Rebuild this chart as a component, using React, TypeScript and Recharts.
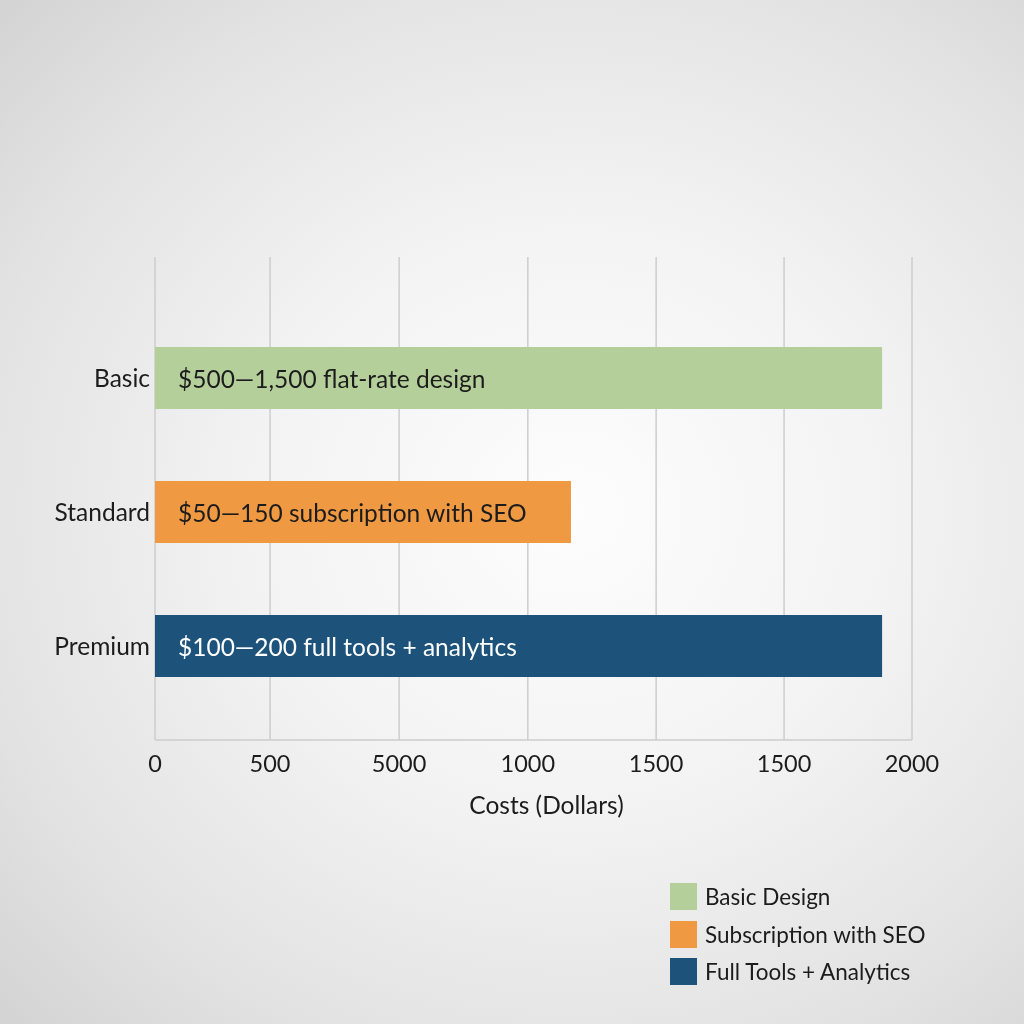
import React from "react"
import { Bar, BarChart, CartesianGrid, Cell, LabelList, XAxis, YAxis } from "recharts"

const tiers = ["Basic", "Standard", "Premium"]
const costs = [1921, 1099, 1921]
const barTexts = [
  "$500\u20141,500 flat-rate design",
  "$50\u2014150 subscription with SEO",
  "$100\u2014200 full tools + analytics",
]
const barColors = ["#b5cf9b", "#ef9a43", "#1d527a"]
const barTextColors = ["#1c1c1c", "#1c1c1c", "#ffffff"]
const legendNames = ["Basic Design", "Subscription with SEO", "Full Tools + Analytics"]

// tick positions, with the (odd) labels printed under them
const tickValues = [0, 304, 645, 985, 1324, 1662, 2000]
const tickLabels = ["0", "500", "5000", "1000", "1500", "1500", "2000"]

const FONT = "Lato, 'Open Sans', sans-serif"

const data = tiers.map((name, i) => ({ name, cost: costs[i], text: barTexts[i] }))

function BarText(props: any) {
  const { x, y, height, value, index } = props
  return (
    <text
      x={Number(x) + 23}
      y={Number(y) + Number(height) / 2}
      dominantBaseline="central"
      fontSize={24.5}
      fontFamily={FONT}
      fill={barTextColors[index]}
    >
      {value}
    </text>
  )
}

export default function App() {
  return (
    <div
      style={{
        position: "fixed",
        top: 0,
        left: 0,
        width: 1024,
        height: 1024,
        fontFamily: FONT,
        background:
          "radial-gradient(ellipse 78% 72% at 56% 50%, #fdfdfd 0%, #f3f3f3 40%, #e3e3e3 75%, #d3d3d3 100%)",
      }}
    >
      <BarChart
        width={1024}
        height={1024}
        data={data}
        layout="vertical"
        margin={{ top: 257, right: 112, left: 0, bottom: 204 }}
      >
        <CartesianGrid horizontal={false} stroke="#cdcdcd" strokeWidth={1.5} />
        <XAxis
          type="number"
          domain={[0, 2000]}
          ticks={tickValues}
          tickFormatter={(_v: number, i: number) => tickLabels[i]}
          interval={0}
          height={80}
          tickSize={0}
          tickMargin={15}
          axisLine={{ stroke: "#cdcdcd", strokeWidth: 1.5 }}
          tickLine={false}
          tick={{ fontSize: 23.5, fill: "#1c1c1c", fontFamily: FONT }}
          label={{
            value: "Costs (Dollars)",
            position: "insideBottom",
            offset: 6,
            dx: 13,
            fontSize: 24.5,
            fill: "#1c1c1c",
            fontFamily: FONT,
          }}
        />
        <YAxis
          type="category"
          dataKey="name"
          width={155}
          padding={{ top: 54, bottom: 27 }}
          axisLine={false}
          tickLine={false}
          tickSize={0}
          tickMargin={5}
          tick={{ fontSize: 24.5, fill: "#1c1c1c", fontFamily: FONT }}
        />
        <Bar dataKey="cost" barSize={62} isAnimationActive={false}>
          {data.map((_d, i) => (
            <Cell key={i} fill={barColors[i]} />
          ))}
          <LabelList dataKey="text" content={BarText} />
        </Bar>
      </BarChart>
      <div style={{ position: "absolute", left: 670, top: 883 }}>
        {legendNames.map((name, i) => (
          <div key={i} style={{ display: "flex", alignItems: "center", height: 27, marginBottom: 10.5 }}>
            <div style={{ width: 27, height: 27, background: barColors[i], marginRight: 8 }} />
            <span style={{ fontSize: 22.5, color: "#1c1c1c" }}>{name}</span>
          </div>
        ))}
      </div>
    </div>
  )
}
